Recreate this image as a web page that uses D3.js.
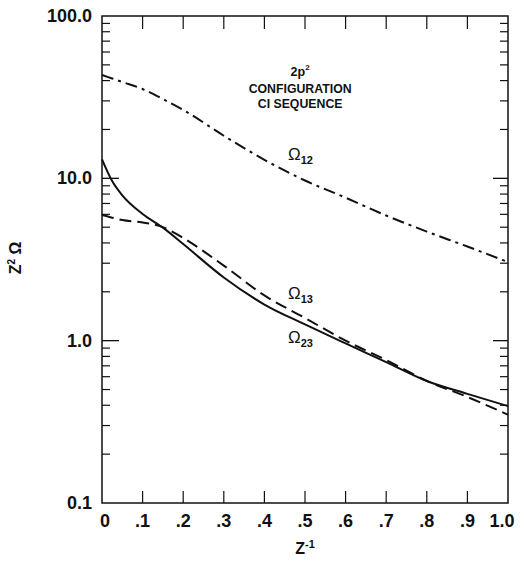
<!DOCTYPE html>
<html>
<head>
<meta charset="utf-8">
<script src="https://cdn.jsdelivr.net/npm/d3@7"></script>
<style>
  html, body { margin: 0; padding: 0; background: #fff; }
  svg { display: block; }
  text { font-family: "Liberation Sans", Arial, Helvetica, sans-serif; fill: #111; }
</style>
</head>
<body>
<svg id="chart" width="524" height="564"></svg>
<script>
// ---- data ----
const zInv    = [0, 0.025, 0.05, 0.1, 0.15, 0.2, 0.3, 0.4, 0.5, 0.6, 0.7, 0.8, 0.9, 1.0];
const omega12 = [43.3, 41.2, 39.2, 35.5, 30.8, 26.4, 18.3, 13.0, 9.7, 7.6, 5.9, 4.7, 3.8, 3.05];
const omega13 = [5.94, 5.72, 5.53, 5.35, 5.01, 4.29, 2.90, 1.90, 1.38, 1.00, 0.76, 0.565, 0.45, 0.35];
const omega23 = [13.1, 9.62, 7.85, 6.03, 4.97, 3.94, 2.45, 1.67, 1.26, 0.962, 0.738, 0.564, 0.47, 0.395];
const xTickValues = [0, 0.1, 0.2, 0.3, 0.4, 0.5, 0.6, 0.7, 0.8, 0.9, 1.0];
const xTickLabels = ["0", ".1", ".2", ".3", ".4", ".5", ".6", ".7", ".8", ".9", "1.0"];
const yTickValues = [0.1, 1, 10, 100];
const yTickLabels = ["0.1", "1.0", "10.0", "100.0"];
const curveLabels = [
  { name: "Ω", sub: "12", x: 0.458, y: 12.97 },
  { name: "Ω", sub: "13", x: 0.458, y: 1.80 },
  { name: "Ω", sub: "23", x: 0.458, y: 0.966 }
];
const titleLines = ["CONFIGURATION", "CI SEQUENCE"];

// ---- layout ----
const svg = d3.select("#chart");
const margin = { left: 102, top: 16, right: 16, bottom: 61 };
const W = 524, H = 564;
const x = d3.scaleLinear().domain([0, 1]).range([margin.left, W - margin.right]);
const y = d3.scaleLog().domain([0.1, 100]).range([H - margin.bottom, margin.top]);

const g = svg.append("g");

// frame
g.append("rect")
  .attr("x", x(0)).attr("y", y(100))
  .attr("width", x(1) - x(0)).attr("height", y(0.1) - y(100))
  .attr("fill", "none").attr("stroke", "#111").attr("stroke-width", 1.5);

// minor log ticks
const minor = [];
[0.1, 1, 10].forEach(d => { for (let k = 2; k <= 9; k++) minor.push(d * k); });

// left ticks (inward)
g.selectAll(".lmin").data(minor).enter().append("line")
  .attr("x1", x(0)).attr("x2", x(0) + 8)
  .attr("y1", d => y(d)).attr("y2", d => y(d))
  .attr("stroke", "#111").attr("stroke-width", 1.2);
g.selectAll(".lmaj").data([1, 10]).enter().append("line")
  .attr("x1", x(0)).attr("x2", x(0) + 17)
  .attr("y1", d => y(d)).attr("y2", d => y(d))
  .attr("stroke", "#111").attr("stroke-width", 1.3);
// right ticks (inward)
g.selectAll(".rmin").data(minor).enter().append("line")
  .attr("x1", x(1)).attr("x2", x(1) - 8)
  .attr("y1", d => y(d)).attr("y2", d => y(d))
  .attr("stroke", "#111").attr("stroke-width", 1.2);
g.selectAll(".rmaj").data([1, 10]).enter().append("line")
  .attr("x1", x(1)).attr("x2", x(1) - 15)
  .attr("y1", d => y(d)).attr("y2", d => y(d))
  .attr("stroke", "#111").attr("stroke-width", 1.3);

// bottom & top ticks (inward)
const innerX = xTickValues.slice(1, -1);
g.selectAll(".bt").data(innerX).enter().append("line")
  .attr("x1", d => x(d)).attr("x2", d => x(d))
  .attr("y1", y(0.1)).attr("y2", y(0.1) - 12)
  .attr("stroke", "#111").attr("stroke-width", 1.2);
g.selectAll(".tt").data(innerX).enter().append("line")
  .attr("x1", d => x(d)).attr("x2", d => x(d))
  .attr("y1", y(100)).attr("y2", y(100) + 13)
  .attr("stroke", "#111").attr("stroke-width", 1.2);

// tick labels
g.selectAll(".yl").data(yTickValues).enter().append("text")
  .attr("x", x(0) - 10).attr("y", d => y(d) + 6)
  .attr("text-anchor", "end")
  .style("font-size", "18px").style("font-weight", "bold")
  .text((d, i) => yTickLabels[i]);
g.selectAll(".xl").data(xTickValues).enter().append("text")
  .attr("x", (d, i) => x(d) + (i === 0 ? 3 : (i === xTickValues.length - 1 ? -6 : 0)))
  .attr("y", y(0.1) + 24)
  .attr("text-anchor", "middle")
  .style("font-size", "18px").style("font-weight", "bold")
  .text((d, i) => xTickLabels[i]);

// axis titles
const xt = g.append("text")
  .attr("x", x(0.5)).attr("y", 554)
  .attr("text-anchor", "middle")
  .style("font-size", "16px").style("font-weight", "bold");
xt.append("tspan").text("Z");
xt.append("tspan").attr("dy", -6).style("font-size", "11px").text("-1");

const yt = g.append("text")
  .attr("transform", "translate(21," + 258 + ") rotate(-90)")
  .attr("text-anchor", "middle")
  .style("font-size", "16px").style("font-weight", "bold");
yt.append("tspan").text("Z");
yt.append("tspan").attr("dy", -6).style("font-size", "10px").text("2");
yt.append("tspan").attr("dy", 6).text(" Ω");

// curves
const line = d3.line().x(d => x(d[0])).y(d => y(d[1])).curve(d3.curveMonotoneX);
const series = [
  { vals: omega12, dash: "12,5,3,5" },
  { vals: omega13, dash: "12,6" },
  { vals: omega23, dash: null }
];
series.forEach(s => {
  g.append("path")
    .datum(zInv.map((z, i) => [z, s.vals[i]]))
    .attr("d", line)
    .attr("fill", "none").attr("stroke", "#111")
    .attr("stroke-width", 2)
    .attr("stroke-dasharray", s.dash);
});

// curve labels
curveLabels.forEach(c => {
  const t = g.append("text").attr("x", x(c.x)).attr("y", y(c.y))
    .style("font-size", "17px");
  t.append("tspan").text(c.name);
  t.append("tspan").attr("dy", 4).style("font-size", "11px").style("font-weight", "bold").text(c.sub);
});

// configuration annotation
const ax = 0.488;
const a0 = g.append("text").attr("x", x(ax)).attr("y", y(42.7))
  .attr("text-anchor", "middle").style("font-size", "12.5px").style("font-weight", "bold");
a0.append("tspan").text("2p");
a0.append("tspan").attr("dy", -6).style("font-size", "8px").text("2");
g.append("text").attr("x", x(ax)).attr("y", y(33.5))
  .attr("text-anchor", "middle").style("font-size", "12.3px").style("font-weight", "bold")
  .text(titleLines[0]);
g.append("text").attr("x", x(ax)).attr("y", y(27.1))
  .attr("text-anchor", "middle").style("font-size", "12.3px").style("font-weight", "bold")
  .text(titleLines[1]);
</script>
</body>
</html>
